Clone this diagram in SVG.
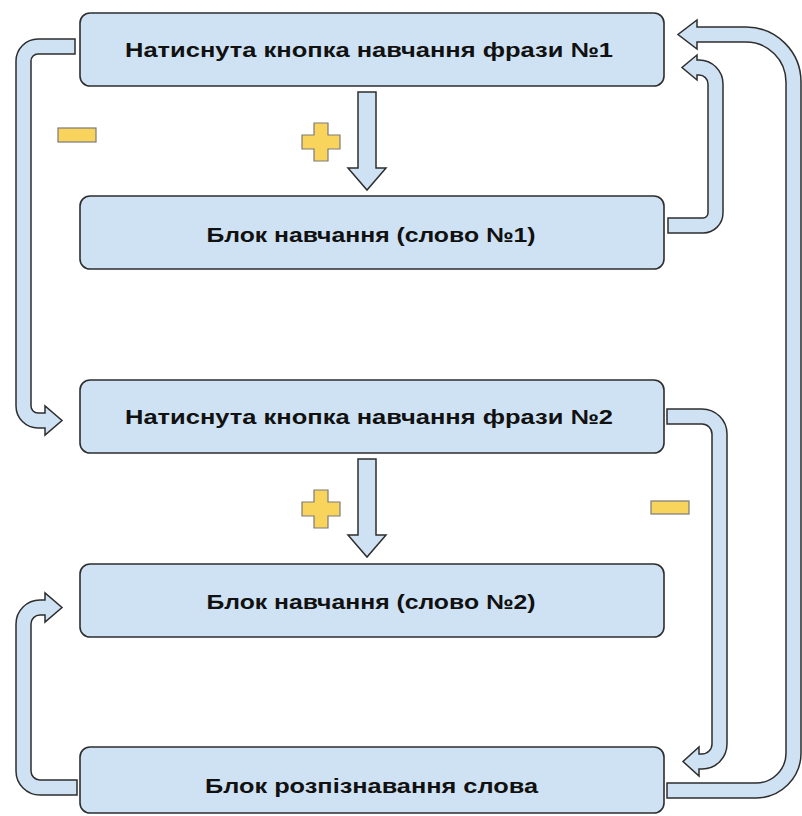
<svg xmlns="http://www.w3.org/2000/svg" width="802" height="816" viewBox="0 0 802 816">
  <style>
    .box { fill: #cfe2f3; stroke: #2e2e2e; stroke-width: 1.6; }
    .lbl { font-family: "Liberation Sans", Arial, sans-serif; font-weight: bold; font-size: 20.5px; fill: #111111; text-anchor: middle; }
    .arr { fill: #cfe2f3; stroke: #2e2e2e; stroke-width: 1.5; stroke-linejoin: miter; }
    .sign { fill: #f8d45c; stroke: #7a7a7a; stroke-width: 1.2; }
  </style>
  <rect width="802" height="816" fill="#ffffff"/>

  <!-- connectors -->
  <g id="connectors">
    <!-- phrase 1 -> learning block 1 -->
    <path class="arr" d="M358,92 H376 V168 H386 L367,190 L348,168 H358 Z"/>
    <!-- phrase 2 -> learning block 2 -->
    <path class="arr" d="M358,459 H376 V535 H386 L367,557 L348,535 H358 Z"/>
    <!-- phrase 1 (left) -> phrase 2 -->
    <path class="arr" d="M75,39 H38 A22,22 0 0 0 16,61 V406 A22,22 0 0 0 38,428 H45 V435 L62,420.5 L45,406 V413 H38 A7,7 0 0 1 31,406 V61 A7,7 0 0 1 38,54 H75 Z"/>
    <!-- learning block 1 -> phrase 1 -->
    <path class="arr" d="M668,218 H703 A5,5 0 0 0 708,213 V84 A9,9 0 0 0 699,75 H697 V80 L682,67.5 L697,55 V60 H699 A24,24 0 0 1 723,84 V213 A20,20 0 0 1 703,233 H668 Z"/>
    <!-- recognition -> phrase 1 -->
    <path class="arr" d="M667,783 H756 A30,30 0 0 0 786,753 V82 A40,40 0 0 0 746,42 H697 V49 L678,34.5 L697,20 V27 H746 A55,55 0 0 1 801,82 V753 A45,45 0 0 1 756,798 H667 Z"/>
    <!-- phrase 2 (right) -> recognition -->
    <path class="arr" d="M667,409 H702 A25,25 0 0 1 727,434 V744 A25,25 0 0 1 702,769 H699 V776 L683,761.5 L699,747 V754 H702 A10,10 0 0 0 712,744 V434 A10,10 0 0 0 702,424 H667 Z"/>
    <!-- recognition -> learning block 2 -->
    <path class="arr" d="M77,780 H40 A9,9 0 0 1 31,771 V624 A9,9 0 0 1 40,615 H45 V622 L62,607.5 L45,593 V600 H40 A24,24 0 0 0 16,624 V771 A24,24 0 0 0 40,795 H77 Z"/>

    <!-- plus / minus marks -->
    <path class="sign" d="M314,123 H328 V135 H340 V149 H328 V161 H314 V149 H302 V135 H314 Z"/>
    <path class="sign" d="M314,490 H328 V502 H340 V516 H328 V528 H314 V516 H302 V502 H314 Z"/>
    <rect class="sign" x="58" y="128" width="38" height="14"/>
    <rect class="sign" x="651" y="501" width="38" height="13"/>
  </g>

  <g id="phrase1">
    <rect class="box" x="80" y="13" width="584" height="73" rx="10"/>
    <text class="lbl" x="369" y="57" textLength="488" lengthAdjust="spacingAndGlyphs">Натиснута кнопка навчання фрази №1</text>
  </g>
  <g id="learn1">
    <rect class="box" x="80" y="196" width="584" height="73" rx="10"/>
    <text class="lbl" x="371" y="242" textLength="329" lengthAdjust="spacingAndGlyphs">Блок навчання (слово №1)</text>
  </g>
  <g id="phrase2">
    <rect class="box" x="80" y="380" width="584" height="73" rx="10"/>
    <text class="lbl" x="369" y="424" textLength="488" lengthAdjust="spacingAndGlyphs">Натиснута кнопка навчання фрази №2</text>
  </g>
  <g id="learn2">
    <rect class="box" x="80" y="564" width="584" height="73" rx="10"/>
    <text class="lbl" x="371" y="609" textLength="329" lengthAdjust="spacingAndGlyphs">Блок навчання (слово №2)</text>
  </g>
  <g id="recognition">
    <rect class="box" x="80" y="747" width="584" height="66" rx="10"/>
    <text class="lbl" x="371.5" y="793" textLength="333" lengthAdjust="spacingAndGlyphs">Блок розпізнавання слова</text>
  </g>
</svg>
